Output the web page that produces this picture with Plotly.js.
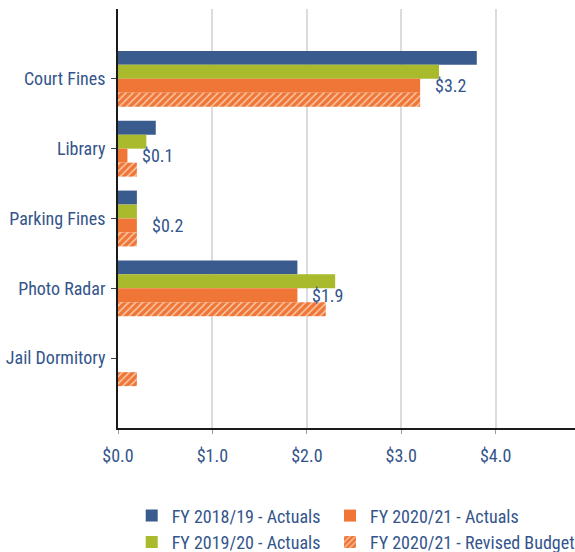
<!DOCTYPE html>
<html>
<head>
<meta charset="utf-8">
<script src="https://cdn.plot.ly/plotly-3.0.1.min.js"></script>
<style>html,body{margin:0;padding:0;background:#fff;}#chart{width:575px;height:552px;}</style>
</head>
<body>
<div id="chart"></div>
<script>
const categories = ["Court Fines", "Library", "Parking Fines", "Photo Radar", "Jail Dormitory"];
const fy1819Actuals = [3.8, 0.4, 0.2, 1.9, 0];
const fy1920Actuals = [3.4, 0.3, 0.2, 2.3, 0];
const fy2021Actuals = [3.2, 0.1, 0.2, 1.9, 0];
const fy2021Revised = [3.2, 0.2, 0.2, 2.2, 0.2];
const labelValues = ["$3.2", "$0.1", "$0.2", "$1.9", null];
const seriesNames = ["FY 2018/19 - Actuals", "FY 2019/20 - Actuals", "FY 2020/21 - Actuals", "FY 2020/21 - Revised Budget"];

const FONT = "'Roboto Condensed', 'Liberation Sans Narrow', 'DejaVu Sans Condensed', Roboto, sans-serif";
const TXT = "#34558b";
const BLUE = "#3a5b8d", GREEN = "#a9ba2d", ORANGE = "#ef7637";

const traces = [
  {type:'bar', orientation:'h', name:seriesNames[0], y:categories, x:fy1819Actuals, marker:{color:BLUE, line:{width:0}}, legend:'legend'},
  {type:'bar', orientation:'h', name:seriesNames[1], y:categories, x:fy1920Actuals, marker:{color:GREEN, line:{width:0}}, legend:'legend'},
  {type:'bar', orientation:'h', name:seriesNames[2], y:categories, x:fy2021Actuals, marker:{color:ORANGE, line:{width:0}}, legend:'legend2'},
  {type:'bar', orientation:'h', name:seriesNames[3], y:categories, x:fy2021Revised,
   marker:{color:ORANGE, line:{width:0}, pattern:{shape:'/', bgcolor:ORANGE, fgcolor:'#f9c9a8', size:5, solidity:0.3}}, legend:'legend2'}
];
traces.forEach(t => { t.hoverinfo = 'x+name'; });

const annotations = [];
categories.forEach((c, i) => {
  if (labelValues[i]) {
    annotations.push({x: fy2021Actuals[i], y: c, xref:'x', yref:'y', text: labelValues[i], showarrow:false,
      xanchor:'left', yanchor:'middle', xshift:13, yshift:-7, font:{family:FONT, size:18, color:TXT}});
  }
});

const legendBase = {orientation:'v', xanchor:'left', y:-0.1656, yanchor:'top', traceorder:'normal',
  font:{family:FONT, size:18, color:TXT}, bgcolor:'rgba(0,0,0,0)', borderwidth:0, tracegroupgap:0};

const layout = {
  width:575, height:552,
  margin:{l:118, r:0, t:9, b:124, pad:0, autoexpand:false},
  paper_bgcolor:'#fff', plot_bgcolor:'#fff',
  barmode:'group', bargap:0.2, bargroupgap:0,
  font:{family:FONT, size:18, color:TXT},
  xaxis:{range:[0, 4.84], dtick:1, tick0:0, tickprefix:'$', tickformat:'.1f',
    showgrid:true, gridcolor:'#dcdcdc', gridwidth:2, zeroline:false,
    showline:true, linecolor:'#1a1a1a', linewidth:2,
    ticks:'outside', ticklen:4, tickcolor:'#999', tickwidth:1, ticklabelstandoff:6,
    tickfont:{family:FONT, size:18, color:TXT}, fixedrange:true, automargin:false},
  yaxis:{type:'category', categoryarray:categories, categoryorder:'array', range:[5, -1],
    showgrid:false, zeroline:false, showline:true, linecolor:'#1a1a1a', linewidth:2,
    ticks:'outside', ticklen:5, tickcolor:'#444', tickwidth:1, ticklabelstandoff:2,
    tickfont:{family:FONT, size:18, color:TXT}, fixedrange:true, automargin:false},
  legend: Object.assign({}, legendBase, {x:0.03}),
  legend2: Object.assign({}, legendBase, {x:0.4639}),
  annotations: annotations,
  showlegend:true
};

Plotly.newPlot('chart', traces, layout, {displayModeBar:false, staticPlot:true});
</script>
</body>
</html>
